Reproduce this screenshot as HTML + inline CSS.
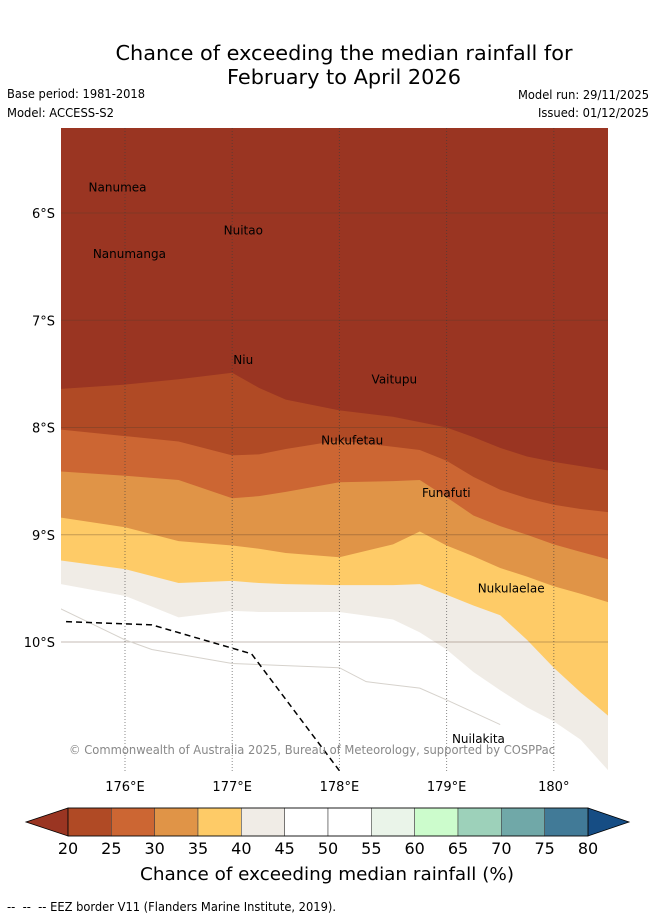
<!DOCTYPE html>
<html><head><meta charset="utf-8"><style>
html,body{margin:0;padding:0;background:#fff;}
body{width:655px;height:919px;position:relative;overflow:hidden;font-family:"DejaVu Sans","Liberation Sans",sans-serif;}
svg text{font-family:"DejaVu Sans","Liberation Sans",sans-serif;}
</style></head><body>
<svg id="chart" width="655" height="919" viewBox="0 0 655 919" xmlns="http://www.w3.org/2000/svg">
<text x="344" y="60" text-anchor="middle" font-size="20" textLength="457" lengthAdjust="spacingAndGlyphs" fill="#000">Chance of exceeding the median rainfall for</text>
<text x="344" y="84" text-anchor="middle" font-size="20" textLength="234" lengthAdjust="spacingAndGlyphs" fill="#000">February to April 2026</text>
<text x="7" y="98" font-size="12" textLength="138" lengthAdjust="spacingAndGlyphs">Base period: 1981-2018</text>
<text x="7" y="117" font-size="12" textLength="107" lengthAdjust="spacingAndGlyphs">Model: ACCESS-S2</text>
<text x="518" y="99" font-size="12" textLength="131" lengthAdjust="spacingAndGlyphs">Model run: 29/11/2025</text>
<text x="538" y="117" font-size="12" textLength="111" lengthAdjust="spacingAndGlyphs">Issued: 01/12/2025</text>
<defs><clipPath id="mapclip"><rect x="61" y="128" width="547" height="643"/></clipPath></defs>
<g id="map" clip-path="url(#mapclip)"></g>
<g id="axes"></g>
<g id="cbar"></g>
<text x="327" y="880" text-anchor="middle" font-size="18" textLength="374" lengthAdjust="spacingAndGlyphs">Chance of exceeding median rainfall (%)</text>
<text x="7" y="911" font-size="12" textLength="329" lengthAdjust="spacingAndGlyphs" xml:space="preserve">--  --  -- EEZ border V11 (Flanders Marine Institute, 2019).</text>
</svg>
<script>
const lonGrid=[175.4,176,176.5,177,177.25,177.5,178,178.5,178.75,179,179.25,179.5,179.75,180,180.25,180.51];
const bound20=[7.64,7.60,7.55,7.49,7.63,7.74,7.84,7.90,7.95,8.00,8.09,8.19,8.27,8.32,8.36,8.40];
const bound25=[8.02,8.08,8.13,8.26,8.25,8.20,8.12,8.18,8.21,8.31,8.46,8.58,8.66,8.72,8.76,8.79];
const bound30=[8.41,8.45,8.49,8.66,8.64,8.60,8.51,8.50,8.49,8.65,8.82,8.92,9.00,9.09,9.16,9.23];
const bound35=[8.84,8.93,9.06,9.10,9.13,9.17,9.21,9.09,8.97,9.10,9.20,9.31,9.39,9.48,9.55,9.63];
const bound40=[9.24,9.32,9.45,9.43,9.45,9.46,9.47,9.47,9.46,9.56,9.66,9.75,9.98,10.24,10.47,10.69];
const bound45=[9.46,9.57,9.77,9.71,9.72,9.72,9.72,9.79,9.91,10.07,10.28,10.45,10.61,10.74,10.91,11.20];
const coastLon=[175.4,176,176.25,177,178,178.25,178.75,179,179.5];
const coastLat=[9.69,9.98,10.07,10.20,10.24,10.37,10.43,10.54,10.77];
const eezLon=[175.45,176.25,177.18,178.0];
const eezLat=[9.81,9.84,10.11,11.2];
const lonTicks=[176,177,178,179,180];
const lonTickLabels=["176°E","177°E","178°E","179°E","180°"];
const latTicks=[6,7,8,9,10];
const latTickLabels=["6°S","7°S","8°S","9°S","10°S"];
const islandNames=["Nanumea","Nuitao","Nanumanga","Niu","Vaitupu","Nukufetau","Funafuti","Nukulaelae","Nuilakita"];
const islandLon=[175.66,176.92,175.70,177.01,178.3,177.83,178.77,179.29,179.05];
const islandLat=[5.8,6.2,6.42,7.41,7.59,8.16,8.65,9.54,10.94];
const cbarLevels=[20,25,30,35,40,45,50,55,60,65,70,75,80];
const cbarColors=["#b04a25","#cc6633","#e09447","#fecb67","#f0ece6","#ffffff","#ffffff","#eaf4e9","#ccfccc","#9dd1ba","#70a8a8","#417a97"];
const underColor="#9a3522", overColor="#164d84";

const NS="http://www.w3.org/2000/svg";
function xS(lon){return 125+(lon-176)*107.2;}
function yS(lat){return 213+(lat-6)*107.25;}
function mk(tag,attrs,parent){const e=document.createElementNS(NS,tag);for(const k in attrs)e.setAttribute(k,attrs[k]);parent.appendChild(e);return e;}
const map=document.getElementById('map');
const bg=mk('rect',{x:61,y:128,width:547,height:643,fill:underColor},map);


const bands=[[bound20,cbarColors[0],'band-20-25'],[bound25,cbarColors[1],'band-25-30'],[bound30,cbarColors[2],'band-30-35'],[bound35,cbarColors[3],'band-35-40'],[bound40,cbarColors[4],'band-40-45'],[bound45,'#ffffff','band-45-55']];
bands.forEach(b=>{
  let pts=lonGrid.map((l,i)=>xS(l)+','+yS(b[0][i]));
  pts.push('620,790','50,790');
  const p=mk('polygon',{points:pts.join(' '),fill:b[1]},map);
  
  
});
latTicks.forEach(t=>{const l=mk('line',{x1:61,x2:608,y1:yS(t),y2:yS(t),stroke:'rgba(90,60,40,0.35)','stroke-width':1},map);

});
lonTicks.forEach(t=>{const l=mk('line',{x1:xS(t),x2:xS(t),y1:128,y2:771,stroke:'rgba(60,60,60,0.6)','stroke-width':1,'stroke-dasharray':'1,2'},map);

});
const coast=mk('polyline',{points:coastLon.map((l,i)=>xS(l)+','+yS(coastLat[i])).join(' '),fill:'none',stroke:'#d6d2cc','stroke-width':1},map);


const eez=mk('polyline',{points:eezLon.map((l,i)=>xS(l)+','+yS(eezLat[i])).join(' '),fill:'none',stroke:'#000','stroke-width':1.5,'stroke-dasharray':'6,4'},map);


islandNames.forEach((n,i)=>{const t=mk('text',{x:xS(islandLon[i]),y:yS(islandLat[i]),'font-size':12,fill:'#000'},map);t.textContent=n;

});
const cp=mk('text',{x:69,y:754,'font-size':12,fill:'#888',textLength:486,lengthAdjust:'spacingAndGlyphs'},map);cp.textContent='© Commonwealth of Australia 2025, Bureau of Meteorology, supported by COSPPac';


const axes=document.getElementById('axes');
lonTicks.forEach((t,i)=>{const e=mk('text',{x:xS(t),y:791,'text-anchor':'middle','font-size':13},axes);e.textContent=lonTickLabels[i];

});
latTicks.forEach((t,i)=>{const e=mk('text',{x:55,y:yS(t)+5,'text-anchor':'end','font-size':13},axes);e.textContent=latTickLabels[i];

});
const cb=document.getElementById('cbar');
const cx0=68,cx1=588,cy0=808,cy1=836,n=cbarColors.length,w=(cx1-cx0)/n;
const lt=mk('polygon',{points:`${cx0},${cy0} 26,${(cy0+cy1)/2} ${cx0},${cy1}`,fill:underColor,stroke:'#000','stroke-width':0.8},cb);


const rt=mk('polygon',{points:`${cx1},${cy0} 629,${(cy0+cy1)/2} ${cx1},${cy1}`,fill:overColor,stroke:'#000','stroke-width':0.8},cb);


cbarColors.forEach((c,i)=>{const r=mk('rect',{x:cx0+i*w,y:cy0,width:w,height:cy1-cy0,fill:c,stroke:'#444','stroke-width':0.6},cb);

});
mk('rect',{x:cx0,y:cy0,width:cx1-cx0,height:cy1-cy0,fill:'none',stroke:'#000','stroke-width':0.8},cb);
cbarLevels.forEach((v,i)=>{const t=mk('text',{x:cx0+i*w,y:854,'text-anchor':'middle','font-size':16},cb);t.textContent=v;

});
</script>
</body></html>
